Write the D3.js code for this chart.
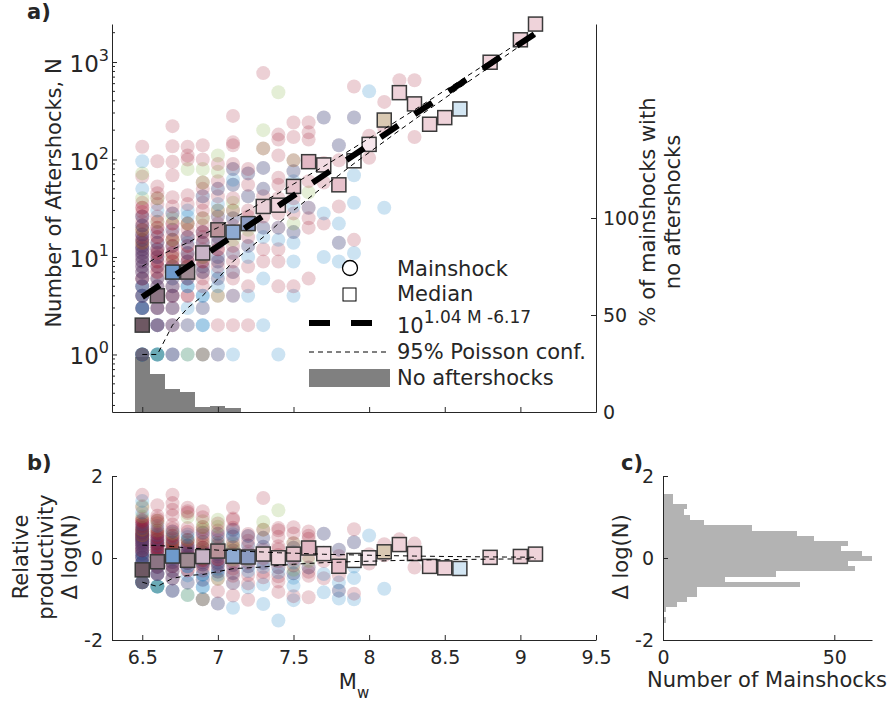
<!DOCTYPE html>
<html>
<head>
<meta charset="utf-8">
<script src="https://cdn.jsdelivr.net/npm/d3@7"></script>
<style>
  body { margin: 0; background: #fff; }
  text { font-family: "DejaVu Sans", sans-serif; fill: #262626; }
</style>
</head>
<body>
<div id="chart"></div>
<script>
// magnitude bins (Mw)
const mags = [6.5, 6.6, 6.7, 6.8, 6.9, 7.0, 7.1, 7.2, 7.3, 7.4, 7.5, 7.6, 7.7, 7.8, 7.9,
              8.0, 8.1, 8.2, 8.3, 8.4, 8.5, 8.6, 8.7, 8.8, 8.9, 9.0, 9.1];

// mainshocks per magnitude bin: <colour><N aftershocks>[x<count>]
const shocks = [
  "b1x6 g1 r1x2 r2x4 b2x3 r3x3 b3x3 r4x3 b4x2 r5x2 b5x2 r6x3 b6 r7x2 b7 r8x2 b8 r9x2 b9 r10x2 b10 r11x2 b11 r12x2 b12 r13x2 b13 r14x2 g14 r15x2 b15 r16 r17x2 b17 r19x2 g19 r21x2 b21 r23 r26x2 b26 r29 r32x2 r36 g40 b50 r67 g72 b96 r135",
  "b1x4 g1 b2x3 r2x2 b3x2 r3x2 r4x3 b4 r5x2 b5 r6x2 b6 r7x2 b8 r8x2 r9x2 r10x2 b10 r11x2 b12 r12x2 r14x2 b14 r16x2 b18 r18 r20x2 g23 r23 r26 b30 r35 r40 g40 r45 r53 r96",
  "b1x2 r1 r2x2 b2 r3x2 b3 r4x3 b4 r5x2 b5 r6 b6 b7x2 r7 r8x2 b8 r9x2 g10 r10 r11x2 b13 r13x2 r15x2 g15 r17 b19 r19 r22x2 g25 r28 b28 r33 r41 r69 r95 r137 r220",
  "b1 g1 r2 b2 b3 r4x2 b5x2 r6x2 b6 r7x2 b7 r8x2 g8 b9 r9x2 r10 r11x2 b11 r13x2 b14 r16x2 b16 r19 r22x2 g22 b26 b30 r35 r43 g80 r100 r110 r135",
  "b1 g1 r1 b2x2 r3 b3 b4x2 r5 r6 r7x2 b7 b8 r8 r9x2 r10 g10 r11x2 b11 r12 r14x2 b14 r16 b18 r18x2 r21 r25 g25 r30 r36 r42 b42 r50 r58 g58 g80 r100 r140",
  "r1 b1 r2 r4 g4 b5 r6 b6 b7 r8 b9 r9 r10 b10 r12x2 b14 r14 b16 r16 r19x2 b19 r22 b26 r26 r30 g30 b35 r42 r50 b50 r60 g75 r90 g110",
  "b1 r2 b4 r4 r6 b7 r7 r9 b11 r11 r13 g15 b18 r18 r21 r25 b25 g30 r30 g36 r40 r55 b55 b62 r80 b80 r90 r140 r150 r280",
  "r2 b4 r5 r8 b10 r13 b13 r16 g19 b22 r22 r26 r30 r42 b42 r55 r72 b72 r80",
  "b2 b6 r9 r12 b16 r20 b20 r26 b33 r42 r50 b50 r82 b82 g130 r130 g200 r770",
  "b1 r5 r9 r12 b15 b20 r20 r28 r40 r55 r65 r110 r160 r180 g490",
  "b4 r5 b9 b14 r18 b18 g22 r28 b33 r40 r50 b60 r76 b76 g98 r98 r170 r240",
  "r6 r20 r25 b32 r32 g46 r60 r95 g95 r160 r190 r240",
  "b10 r22 b28 r58 r85 r92 r270 b270",
  "b9 r14 b14 b22 r33 r55 r98 r140 b140",
  "b11 r15 b36 b69 r270 b270 r560",
  "r104 r148 r175 b500",
  "b32 r210 g254 r390",
  "r485 r650",
  "r170 r372 r650",
  "r230",
  "r269",
  "b330",
  "",
  "r995",
  "",
  "r1690",
  "r2450"
];

// median number of aftershocks per bin
const medians = [2, 4, 7, 7, 11, 19, 18, 22, 33, 34, 53, 95, 88, 55, 97,
                 143, 254, 485, 372, 230, 269, 330, null, 995, null, 1690, 2450];
const medianFill = ["#6e5863", "#8c7483", "#6f9acb", "#9f8a92", "#c8b3c6", "#b99299", "#8eaad2",
                    "#8b9bc2", "#ead0d7", "#efd5dc", "#e6c4cc", "#e2b8c4", "#f2dbe2", "#e8c2cc",
                    "#ffffff", "#f6e6ec", "#d9c9b2", "#efd3da", "#efd3da", "#efd3da", "#efd3da",
                    "#d3e6f3", null, "#efd3da", null, "#efd3da", "#efd3da"];

// 95% Poisson confidence bounds of the fit
const confLow = [1, 1, 2, 3, 4, 6, 9, 12, 16, 22, 30, 40, 53, 69, 91,
                 118, 153, 199, 257, 331, 425, 547, 701, 899, 1151, 1472, 1881];
const confHigh = [8, 10, 12, 14, 17, 20, 25, 30, 37, 45, 56, 69, 85, 106, 132,
                  165, 206, 258, 323, 406, 510, 642, 809, 1020, 1287, 1626, 2055];

// fit log10(N) = 1.04 M - 6.17
const fitSlope = 1.04;
const fitIntercept = -6.17;

// % of mainshocks with no aftershocks
const noAfterMags = [6.5, 6.6, 6.7, 6.8, 6.9, 7.0, 7.1];
const noAfterPct = [28.2, 19.6, 11.7, 10.5, 2.7, 3.1, 2.1];

// histogram of relative productivity (panel c)
const deltaEdges = [-1.577, -1.447, -1.325, -1.203, -1.073, -0.951, -0.829, -0.699, -0.577,
                    -0.455, -0.325, -0.203, -0.081, 0.049, 0.171, 0.293, 0.423, 0.545, 0.667,
                    0.797, 0.927, 1.049, 1.187, 1.309, 1.43, 1.553];
const deltaCounts = [1, 0, 1, 4, 7, 10, 10, 40, 18, 33, 56, 54, 61, 58, 52, 54, 44, 39, 26,
                     12, 8, 6, 7, 3, 3];

const xTicks = [6.5, 7, 7.5, 8, 8.5, 9, 9.5];

// ---- layout
const width = 891, height = 703;
const ink = "#262626";
const palette = { r: "#a2142f", b: "#0072bd", g: "#77ac30" };

const svg = d3.select("#chart").append("svg")
    .attr("width", width)
    .attr("height", height);
svg.append("rect").attr("width", width).attr("height", height).attr("fill", "#fff");

const x = d3.scaleLinear().domain([6.3, 9.5]).range([112, 596]);
const yA = d3.scaleLog().domain([Math.pow(10, -0.59), Math.pow(10, 3.39)]).range([412, 24]);
const yR = d3.scaleLinear().domain([0, 200]).range([412, 24]);
const yB = d3.scaleLinear().domain([-2, 2]).range([640, 476]);
const xC = d3.scaleLinear().domain([0, d3.max(deltaCounts)]).range([663, 872]);

const fitLog = m => fitSlope * m + fitIntercept;

// expand mainshock tokens
const points = [];
shocks.forEach((s, i) => {
    s.split(" ").filter(t => t).forEach(t => {
        const m = t.match(/^([rgb])(\d+)(?:x(\d+))?$/);
        const n = m[3] ? +m[3] : 1;
        for (let k = 0; k < n; k++) points.push({ M: mags[i], N: +m[2], c: m[1] });
    });
});

const medPts = mags.map((m, i) => ({ M: m, N: medians[i], fill: medianFill[i] }))
    .filter(d => d.N != null);

function styleAxis(g, size) {
    g.attr("font-family", '"DejaVu Sans", sans-serif').attr("font-size", size || 19);
    g.selectAll("path.domain").attr("stroke", ink);
    g.selectAll(".tick line").attr("stroke", ink);
    g.selectAll(".tick text").attr("fill", ink);
}

// ================= panel a
const gA = svg.append("g");

gA.selectAll("rect.noaft")
    .data(noAfterMags)
    .join("rect")
    .attr("x", d => x(d - 0.05))
    .attr("width", d => x(d + 0.05) - x(d - 0.05))
    .attr("y", (d, i) => yR(noAfterPct[i]))
    .attr("height", (d, i) => yR(0) - yR(noAfterPct[i]))
    .attr("fill", "#808080")
    .attr("shape-rendering", "crispEdges");

gA.selectAll("circle.shock")
    .data(points)
    .join("circle")
    .attr("cx", d => x(d.M))
    .attr("cy", d => yA(d.N))
    .attr("r", 7)
    .attr("fill", d => palette[d.c])
    .attr("fill-opacity", 0.2);

gA.selectAll("rect.med")
    .data(medPts)
    .join("rect")
    .attr("x", d => x(d.M) - 7)
    .attr("y", d => yA(d.N) - 7)
    .attr("width", 14)
    .attr("height", 14)
    .attr("fill", d => d.fill)
    .attr("stroke", "#3a3a3a")
    .attr("stroke-width", 1.5);

const lineA = d3.line().x(d => x(d[0])).y(d => yA(d[1]));
[confLow, confHigh].forEach(arr => {
    gA.append("path")
        .attr("d", lineA(mags.map((m, i) => [m, arr[i]])))
        .attr("fill", "none")
        .attr("stroke", "#000")
        .attr("stroke-width", 1)
        .attr("stroke-dasharray", "5,4");
});
const fitEnds = d3.extent(mags);
gA.append("path")
    .attr("d", lineA(fitEnds.map(m => [m, Math.pow(10, fitLog(m))])))
    .attr("fill", "none")
    .attr("stroke", "#000")
    .attr("stroke-width", 6)
    .attr("stroke-dasharray", "21,20");

// axes a
const axL = gA.append("g").attr("transform", "translate(112,0)")
    .call(d3.axisLeft(yA).tickValues([1, 10, 100, 1000]).tickFormat("").tickSize(-5).tickSizeOuter(0));
styleAxis(axL);
const minor = [];
for (let k = -1; k <= 3; k++) for (let j = 2; j <= 9; j++) {
    const v = j * Math.pow(10, k);
    if (v > yA.domain()[0] && v < yA.domain()[1]) minor.push(v);
}
axL.selectAll("line.minor").data(minor).join("line")
    .attr("x1", 0).attr("x2", 3)
    .attr("y1", d => yA(d)).attr("y2", d => yA(d))
    .attr("stroke", ink);
[0, 1, 2, 3].forEach(k => {
    const t = gA.append("text")
        .attr("x", 109)
        .attr("y", yA(Math.pow(10, k)) + 10)
        .attr("text-anchor", "end")
        .style("font-size", "23px");
    t.append("tspan").text("10");
    t.append("tspan").attr("dy", -11).style("font-size", "16px").text(k);
});

styleAxis(gA.append("g").attr("transform", "translate(0,412)")
    .call(d3.axisBottom(x).tickValues(xTicks).tickFormat("").tickSize(-5).tickSizeOuter(0)));

styleAxis(gA.append("g").attr("transform", "translate(596,0)")
    .call(d3.axisRight(yR).tickValues([0, 50, 100]).tickSize(-5).tickPadding(7).tickSizeOuter(0)));

gA.append("text")
    .attr("transform", "translate(61,193) rotate(-90)")
    .attr("text-anchor", "middle")
    .style("font-size", "21px")
    .text("Number of Aftershocks, N");
gA.append("text")
    .attr("transform", "translate(655,212) rotate(-90)")
    .attr("text-anchor", "middle")
    .style("font-size", "21px")
    .text("% of mainshocks with");
gA.append("text")
    .attr("transform", "translate(680,212) rotate(-90)")
    .attr("text-anchor", "middle")
    .style("font-size", "21px")
    .text("no aftershocks");

gA.append("text").attr("x", 27).attr("y", 19)
    .style("font-size", "21px").style("font-weight", "bold").text("a)");

// legend
const lg = gA.append("g");
lg.append("circle").attr("cx", 350).attr("cy", 268).attr("r", 7.5)
    .attr("fill", "none").attr("stroke", "#000").attr("stroke-width", 1.3);
lg.append("rect").attr("x", 343).attr("y", 288).attr("width", 13).attr("height", 13)
    .attr("fill", "none").attr("stroke", "#000").attr("stroke-width", 1);
lg.append("line").attr("x1", 309).attr("x2", 372).attr("y1", 323).attr("y2", 323)
    .attr("stroke", "#000").attr("stroke-width", 6).attr("stroke-dasharray", "21,21");
lg.append("line").attr("x1", 309).attr("x2", 388).attr("y1", 352).attr("y2", 352)
    .attr("stroke", "#000").attr("stroke-width", 1).attr("stroke-dasharray", "5,4");
lg.append("rect").attr("x", 309).attr("y", 369).attr("width", 81).attr("height", 18)
    .attr("fill", "#808080");
const lgText = (y, s) => lg.append("text").attr("x", 397).attr("y", y).style("font-size", "21px").text(s);
lgText(276, "Mainshock");
lgText(301, "Median");
const fitLabel = lg.append("text").attr("x", 397).attr("y", 333).style("font-size", "21px");
fitLabel.append("tspan").text("10");
fitLabel.append("tspan").attr("dy", -10).style("font-size", "17px")
    .text(`${fitSlope} M ${fitIntercept}`);
lgText(359, "95% Poisson conf.");
lgText(385, "No aftershocks");

// ================= panel b
const gB = svg.append("g");

gB.selectAll("circle.shock")
    .data(points)
    .join("circle")
    .attr("cx", d => x(d.M))
    .attr("cy", d => yB(Math.log10(d.N) - fitLog(d.M)))
    .attr("r", 7)
    .attr("fill", d => palette[d.c])
    .attr("fill-opacity", 0.2);

gB.selectAll("rect.med")
    .data(medPts)
    .join("rect")
    .attr("x", d => x(d.M) - 7)
    .attr("y", d => yB(Math.log10(d.N) - fitLog(d.M)) - 7)
    .attr("width", 14)
    .attr("height", 14)
    .attr("fill", d => d.fill)
    .attr("stroke", "#3a3a3a")
    .attr("stroke-width", 1.5);

const lineB = d3.line().x(d => x(d[0])).y(d => yB(d[1]));
[confLow, confHigh].forEach(arr => {
    gB.append("path")
        .attr("d", lineB(mags.map((m, i) => [m, Math.log10(arr[i]) - fitLog(m)])))
        .attr("fill", "none")
        .attr("stroke", "#000")
        .attr("stroke-width", 1)
        .attr("stroke-dasharray", "5,4");
});

styleAxis(gB.append("g").attr("transform", "translate(112,0)")
    .call(d3.axisLeft(yB).tickValues([-2, 0, 2]).tickFormat(d => String(d))
        .tickSize(-5).tickPadding(9).tickSizeOuter(0)));
styleAxis(gB.append("g").attr("transform", "translate(0,640)")
    .call(d3.axisBottom(x).tickValues(xTicks).tickFormat(d => String(d))
        .tickSize(-5).tickPadding(11).tickSizeOuter(0)));

const bLab = gB.append("text")
    .attr("transform", "translate(0,557) rotate(-90)")
    .attr("text-anchor", "middle")
    .style("font-size", "21px");
bLab.append("tspan").attr("x", 0).attr("y", 28).text("Relative");
bLab.append("tspan").attr("x", 0).attr("y", 52.5).text("productivity");
bLab.append("tspan").attr("x", 0).attr("y", 77).text("\u0394 log(N)");

const mw = gB.append("text").attr("x", 354).attr("y", 689)
    .attr("text-anchor", "middle").style("font-size", "21px");
mw.append("tspan").text("M");
mw.append("tspan").attr("dy", 9).style("font-size", "15px").text("w");

gB.append("text").attr("x", 27).attr("y", 470)
    .style("font-size", "21px").style("font-weight", "bold").text("b)");

// ================= panel c
const gC = svg.append("g");
gC.selectAll("rect.bin")
    .data(deltaCounts)
    .join("rect")
    .attr("x", xC(0))
    .attr("y", (d, i) => yB(deltaEdges[i + 1]))
    .attr("width", d => xC(d) - xC(0))
    .attr("height", (d, i) => yB(deltaEdges[i]) - yB(deltaEdges[i + 1]))
    .attr("fill", "#b3b3b3")
    .attr("shape-rendering", "crispEdges");

styleAxis(gC.append("g").attr("transform", "translate(663,0)")
    .call(d3.axisLeft(yB).tickValues([-2, 0, 2]).tickFormat(d => String(d))
        .tickSize(-5).tickPadding(9).tickSizeOuter(0)));
styleAxis(gC.append("g").attr("transform", "translate(0,640)")
    .call(d3.axisBottom(xC).tickValues([0, 50]).tickSize(-5).tickPadding(11).tickSizeOuter(0)));

gC.append("text")
    .attr("transform", "translate(628,557) rotate(-90)")
    .attr("text-anchor", "middle")
    .style("font-size", "21px")
    .text("\u0394 log(N)");
gC.append("text").attr("x", 767).attr("y", 687)
    .attr("text-anchor", "middle").style("font-size", "21px")
    .text("Number of Mainshocks");
gC.append("text").attr("x", 621).attr("y", 470)
    .style("font-size", "21px").style("font-weight", "bold").text("c)");
</script>
</body>
</html>
